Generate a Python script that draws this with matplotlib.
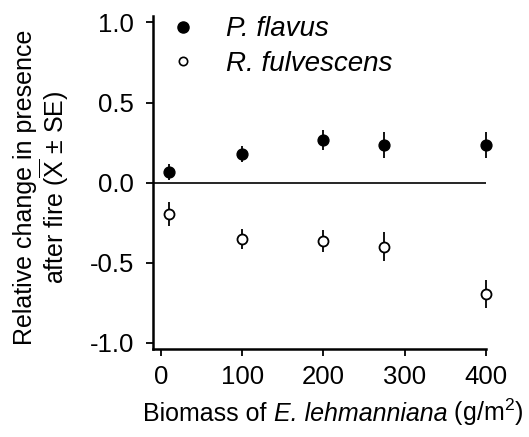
import matplotlib
matplotlib.use("Agg")
import matplotlib.pyplot as plt
from matplotlib.lines import Line2D
from matplotlib.offsetbox import TextArea, HPacker, AnnotationBbox

plt.rcParams['font.family'] = ['Liberation Sans', 'DejaVu Sans']
plt.rcParams['mathtext.fontset'] = 'custom'
plt.rcParams['mathtext.rm'] = 'Liberation Sans'
plt.rcParams['mathtext.it'] = 'Liberation Sans:italic'

# Biomass levels and relative change in presence (mean, SE)
biomass = [10, 100, 200, 275, 400]
flavus_mean = [0.065, 0.18, 0.265, 0.235, 0.235]
flavus_se = [0.05, 0.05, 0.062, 0.08, 0.08]
fulv_mean = [-0.195, -0.35, -0.365, -0.40, -0.695]
fulv_se = [0.075, 0.063, 0.068, 0.09, 0.088]

xticks = [0, 100, 200, 300, 400]
yticks = [-1.0, -0.5, 0.0, 0.5, 1.0]

fig = plt.figure(figsize=(5.29, 4.37), dpi=100)
ax = fig.add_axes([0.2887, 0.2007, 0.63, 0.7627])

ax.axhline(0, color='black', lw=1.2, zorder=1)

eb1 = ax.errorbar(biomass, flavus_mean, yerr=flavus_se, fmt='o', color='black',
                  ms=7.8, mfc='black', mec='black', elinewidth=1.3, capsize=0, zorder=3)
eb2 = ax.errorbar(biomass, fulv_mean, yerr=fulv_se, fmt='o', color='black',
                  ms=7.2, mfc='white', mec='black', mew=1.3, elinewidth=1.3, capsize=0, zorder=3)
for eb in (eb1, eb2):
    for art in eb.get_children():
        art.set_clip_on(False)

ax.set_xlim(-10, 400)
ax.set_ylim(-1.04, 1.04)
ax.set_xticks(xticks)
ax.set_xticklabels([str(t) for t in xticks])
ax.set_yticks(yticks)
ax.set_yticklabels(['%.1f' % t for t in yticks])

for side in ['top', 'right']:
    ax.spines[side].set_visible(False)
for side in ['left', 'bottom']:
    ax.spines[side].set_linewidth(1.8)

ax.tick_params(direction='out', length=5, width=1.3, labelsize=18.5, colors='black')
ax.tick_params(axis='y', pad=8.5)
ax.tick_params(axis='x', pad=6)

fig.text(42 / 529, 1 - 187 / 437,
         'Relative change in presence\nafter fire ($\\overline{\\mathrm{X}}$ \u00b1 SE)',
         fontsize=18, rotation=90, ha='center', va='center',
         multialignment='center', linespacing=1.05)

# x-axis label with italic species name, packed from pieces
xlab_parts = [
    TextArea('Biomass of ', textprops=dict(fontsize=18)),
    TextArea('E. lehmanniana', textprops=dict(fontsize=18, style='italic')),
    TextArea(' (g/m$^{2}$)', textprops=dict(fontsize=18)),
]
xlab = HPacker(children=xlab_parts, pad=0, sep=0, align='baseline')
ab = AnnotationBbox(xlab, (333.5 / 529, 1 - 412 / 437), xycoords='figure fraction',
                    box_alignment=(0.5, 0.5), frameon=False, pad=0)
fig.add_artist(ab)

handles = [
    Line2D([], [], ls='none', marker='o', ms=8, mfc='black', mec='black'),
    Line2D([], [], ls='none', marker='o', ms=6, mfc='white', mec='black', mew=1.2),
]
leg = ax.legend(handles, ['P. flavus', 'R. fulvescens'], loc='upper left',
                bbox_to_anchor=(-0.01, 1.057), frameon=False, handlelength=1.0,
                handletextpad=1.05, labelspacing=0.3, borderaxespad=0.3,
                prop={'size': 20, 'style': 'italic'})

fig.savefig('out.png', dpi=100)
